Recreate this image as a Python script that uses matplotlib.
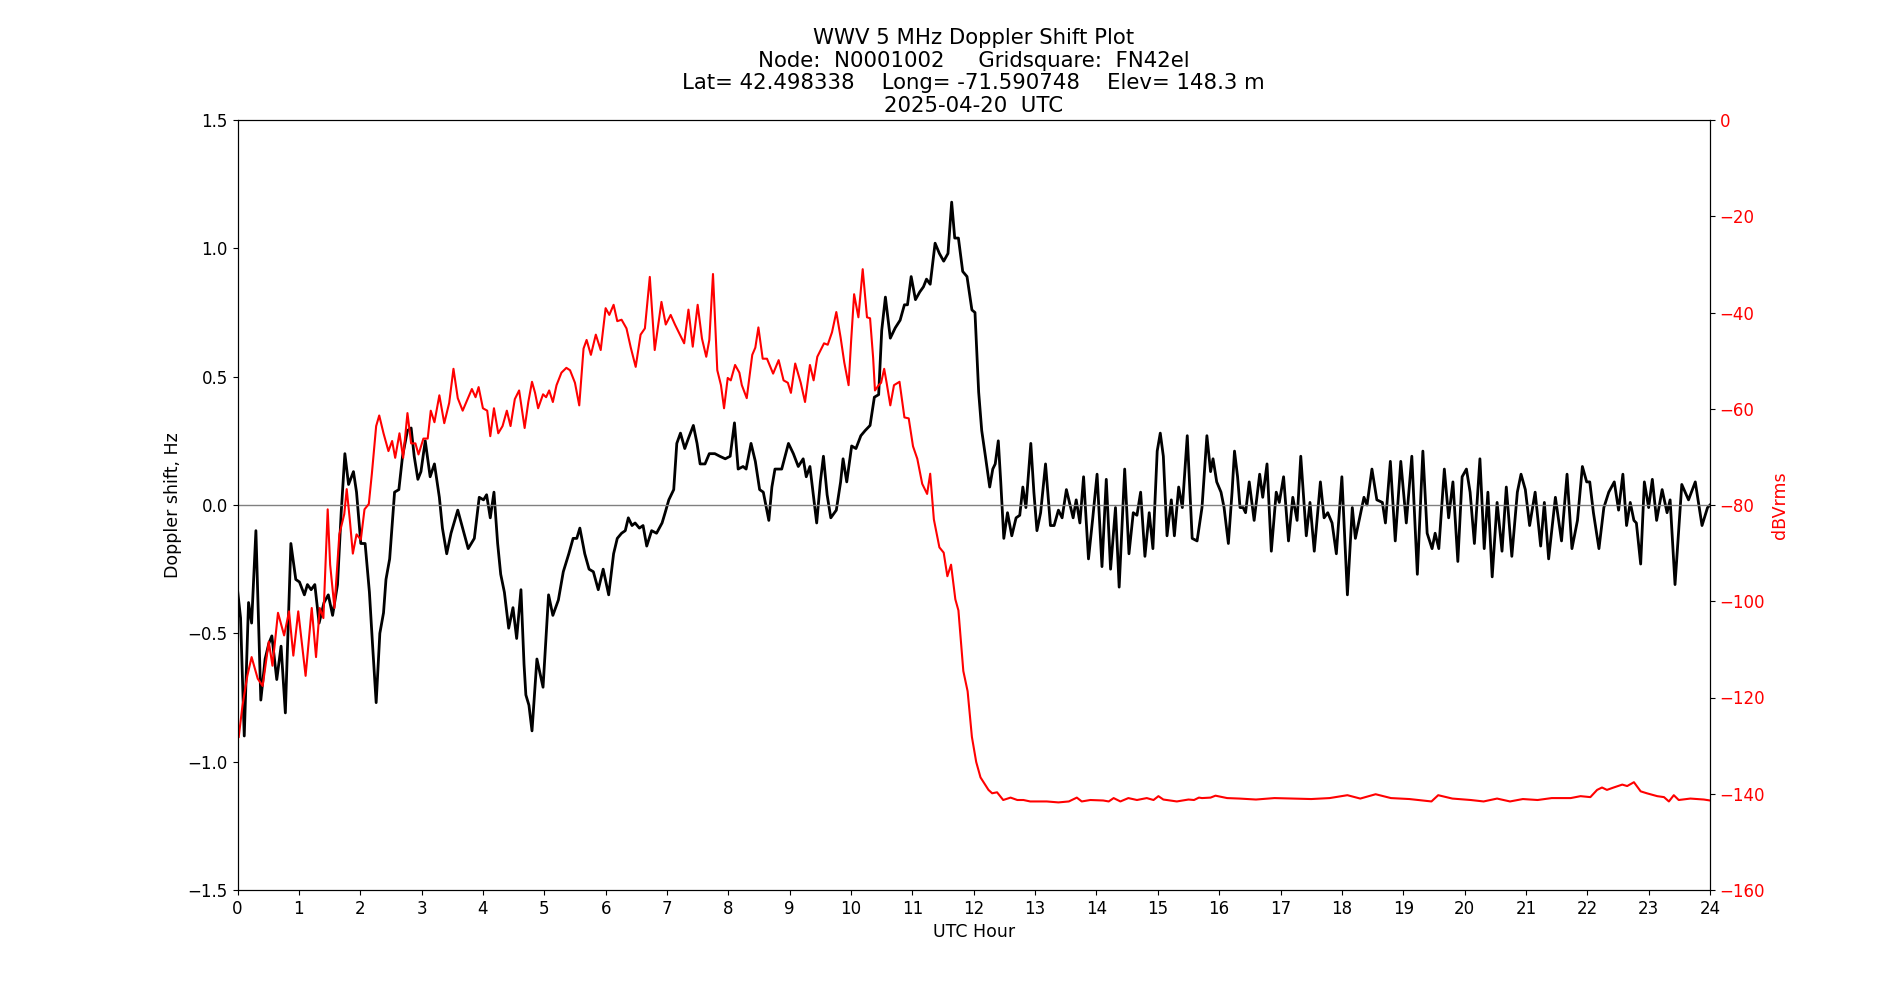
import matplotlib
matplotlib.use('Agg')
import matplotlib.pyplot as plt
import numpy as np

###########################################
# Data
###########################################

# Doppler shift (Hz) vs UTC hour
dop_hours = [
    0.00, 0.05, 0.11, 0.18, 0.23, 0.30, 0.38, 0.45, 0.51, 0.56, 0.64, 0.71, 0.78, 0.87, 0.95,
    1.01, 1.09, 1.14, 1.20, 1.26, 1.33, 1.41, 1.48, 1.55, 1.63, 1.69, 1.75, 1.81, 1.89, 1.94,
    2.01, 2.08, 2.15, 2.20, 2.26, 2.32, 2.38, 2.42, 2.48, 2.56, 2.63, 2.69, 2.77, 2.83, 2.88, 2.94, 2.99,
    3.06, 3.14, 3.21, 3.29, 3.34, 3.41, 3.48, 3.59, 3.67, 3.76, 3.86, 3.94,
    4.01, 4.06, 4.12, 4.18, 4.24, 4.29, 4.35, 4.42, 4.49, 4.55, 4.62, 4.67, 4.70, 4.75, 4.80, 4.88, 4.98,
    5.07, 5.14, 5.23, 5.31, 5.40, 5.47, 5.53, 5.58, 5.66, 5.73, 5.80, 5.88, 5.96,
    6.05, 6.13, 6.19, 6.26, 6.32, 6.37, 6.43, 6.48, 6.55, 6.61, 6.67, 6.75, 6.83, 6.92, 6.97,
    7.03, 7.11, 7.16, 7.22, 7.29, 7.35, 7.43, 7.49, 7.54, 7.62, 7.69, 7.78, 7.86, 7.95,
    8.03, 8.10, 8.16, 8.24, 8.29, 8.37, 8.44, 8.51, 8.57, 8.66, 8.71, 8.76, 8.87, 8.98,
    9.06, 9.14, 9.22, 9.27, 9.33, 9.39, 9.44, 9.50, 9.55, 9.61, 9.67, 9.76, 9.83, 9.87, 9.93,
    10.01, 10.08, 10.16, 10.23, 10.31, 10.38, 10.45, 10.50, 10.56, 10.64, 10.72, 10.80, 10.87, 10.92, 10.98,
    11.05, 11.12, 11.18, 11.23, 11.29, 11.37, 11.44, 11.51, 11.58, 11.64, 11.69, 11.75, 11.82, 11.89, 11.97,
    12.02, 12.08, 12.13, 12.19, 12.26, 12.31, 12.35, 12.40, 12.44, 12.49, 12.55, 12.62, 12.69, 12.75, 12.80,
    12.85, 12.93, 12.98, 13.03, 13.09, 13.17, 13.25, 13.31, 13.38, 13.44, 13.51, 13.56, 13.62, 13.67, 13.73,
    13.79, 13.87, 13.94, 14.01, 14.09, 14.16, 14.23, 14.31, 14.37, 14.46, 14.53, 14.60, 14.66, 14.72, 14.79,
    14.86, 14.92, 14.99, 15.04, 15.09, 15.15, 15.22, 15.27, 15.34, 15.40, 15.48, 15.56, 15.64, 15.72, 15.80,
    15.86, 15.90, 15.96, 16.03, 16.08, 16.15, 16.21, 16.25, 16.30, 16.34, 16.39, 16.43, 16.49, 16.57, 16.66,
    16.71, 16.78, 16.85, 16.93, 16.98, 17.05, 17.13, 17.20, 17.27, 17.33, 17.42, 17.48, 17.55, 17.65, 17.71,
    17.77, 17.84, 17.91, 18.00, 18.09, 18.17, 18.22, 18.29, 18.36, 18.41, 18.49, 18.57, 18.66, 18.71, 18.79,
    18.87, 18.96, 19.05, 19.14, 19.23, 19.32, 19.39, 19.47, 19.52, 19.58, 19.67, 19.74, 19.81, 19.89, 19.96,
    20.03, 20.09, 20.16, 20.25, 20.32, 20.38, 20.45, 20.53, 20.61, 20.68, 20.77, 20.86, 20.92, 20.99,
    21.06, 21.15, 21.24, 21.30, 21.37, 21.48, 21.58, 21.67, 21.75, 21.84, 21.92, 21.99,
    22.04, 22.10, 22.19, 22.27, 22.35, 22.44, 22.51, 22.58, 22.64, 22.70, 22.76, 22.80, 22.87, 22.93,
    23.00, 23.06, 23.13, 23.22, 23.30, 23.35, 23.43, 23.54, 23.65, 23.76, 23.87, 23.96, 24.00,
]
dop_shift = [
    -0.33, -0.44, -0.90, -0.38, -0.46, -0.10, -0.76, -0.60, -0.54, -0.51, -0.68, -0.55, -0.81, -0.15, -0.29,
    -0.30, -0.35, -0.31, -0.33, -0.31, -0.46, -0.38, -0.35, -0.43, -0.31, -0.03, 0.20, 0.08, 0.13, 0.05,
    -0.15, -0.15, -0.34, -0.54, -0.77, -0.50, -0.42, -0.29, -0.21, 0.05, 0.06, 0.19, 0.29, 0.30, 0.19, 0.10, 0.13,
    0.25, 0.11, 0.16, 0.03, -0.09, -0.19, -0.11, -0.02, -0.09, -0.17, -0.13, 0.03,
    0.02, 0.04, -0.05, 0.05, -0.15, -0.27, -0.34, -0.48, -0.40, -0.52, -0.33, -0.62, -0.74, -0.78, -0.88, -0.60, -0.71,
    -0.35, -0.43, -0.37, -0.26, -0.19, -0.13, -0.13, -0.09, -0.19, -0.25, -0.26, -0.33, -0.25,
    -0.35, -0.19, -0.13, -0.11, -0.10, -0.05, -0.08, -0.07, -0.09, -0.08, -0.16, -0.10, -0.11, -0.07, -0.03,
    0.02, 0.06, 0.24, 0.28, 0.22, 0.26, 0.31, 0.24, 0.16, 0.16, 0.20, 0.20, 0.19, 0.18,
    0.19, 0.32, 0.14, 0.15, 0.14, 0.24, 0.17, 0.06, 0.05, -0.06, 0.07, 0.14, 0.14, 0.24,
    0.20, 0.15, 0.18, 0.11, 0.15, 0.03, -0.07, 0.09, 0.19, 0.04, -0.05, -0.02, 0.09, 0.18, 0.09,
    0.23, 0.22, 0.27, 0.29, 0.31, 0.42, 0.43, 0.68, 0.81, 0.65, 0.69, 0.72, 0.78, 0.78, 0.89,
    0.80, 0.83, 0.85, 0.88, 0.86, 1.02, 0.98, 0.95, 0.98, 1.18, 1.04, 1.04, 0.91, 0.89, 0.76,
    0.75, 0.44, 0.29, 0.19, 0.07, 0.14, 0.16, 0.25, 0.09, -0.13, -0.03, -0.12, -0.05, -0.04, 0.07,
    -0.01, 0.24, 0.05, -0.10, -0.03, 0.16, -0.08, -0.08, -0.02, -0.05, 0.06, 0.01, -0.05, 0.02, -0.07,
    0.11, -0.21, -0.05, 0.12, -0.24, 0.10, -0.25, -0.01, -0.32, 0.14, -0.19, -0.03, -0.04, 0.05, -0.20,
    -0.03, -0.17, 0.21, 0.28, 0.19, -0.12, 0.02, -0.12, 0.07, -0.01, 0.27, -0.13, -0.14, -0.01, 0.27,
    0.13, 0.18, 0.09, 0.05, -0.01, -0.15, 0.05, 0.21, 0.11, -0.01, -0.01, -0.03, 0.09, -0.06, 0.12,
    0.03, 0.16, -0.18, 0.05, 0.01, 0.11, -0.14, 0.03, -0.06, 0.19, -0.12, 0.01, -0.18, 0.09, -0.05,
    -0.03, -0.07, -0.19, 0.11, -0.35, -0.01, -0.13, -0.05, 0.03, 0.00, 0.14, 0.02, 0.01, -0.07, 0.17,
    -0.14, 0.17, -0.07, 0.19, -0.27, 0.21, -0.11, -0.17, -0.11, -0.17, 0.14, -0.05, 0.09, -0.22, 0.11,
    0.14, 0.05, -0.15, 0.18, -0.17, 0.05, -0.28, 0.01, -0.18, 0.07, -0.20, 0.05, 0.12, 0.06,
    -0.08, 0.05, -0.16, 0.01, -0.21, 0.03, -0.14, 0.12, -0.17, -0.06, 0.15, 0.09,
    0.09, -0.03, -0.17, -0.01, 0.05, 0.09, -0.02, 0.12, -0.08, 0.01, -0.06, -0.07, -0.23, 0.09,
    -0.01, 0.10, -0.06, 0.06, -0.03, 0.02, -0.31, 0.08, 0.02, 0.09, -0.08, -0.01, 0.00,
]

# Signal level (dBVrms) vs UTC hour
pwr_hours = [
    0.02, 0.08, 0.16, 0.23, 0.33, 0.41, 0.51, 0.57, 0.66, 0.76, 0.84, 0.91, 0.99,
    1.11, 1.21, 1.28, 1.34, 1.40, 1.47, 1.51, 1.58, 1.66, 1.74, 1.78, 1.83, 1.88, 1.94,
    2.01, 2.07, 2.14, 2.19, 2.26, 2.31, 2.38, 2.46, 2.52, 2.57, 2.64, 2.70, 2.77, 2.83, 2.90, 2.95,
    3.03, 3.10, 3.15, 3.21, 3.29, 3.37, 3.45, 3.52, 3.59, 3.67, 3.75, 3.82, 3.88, 3.93,
    4.00, 4.07, 4.12, 4.18, 4.25, 4.32, 4.39, 4.45, 4.52, 4.59, 4.68, 4.74, 4.80, 4.85, 4.90, 4.98,
    5.03, 5.08, 5.14, 5.20, 5.28, 5.36, 5.42, 5.50, 5.57, 5.64, 5.69, 5.76, 5.84, 5.92,
    6.00, 6.06, 6.13, 6.19, 6.26, 6.34, 6.41, 6.49, 6.57, 6.64, 6.72, 6.80, 6.91, 6.98,
    7.06, 7.13, 7.21, 7.28, 7.35, 7.42, 7.50, 7.57, 7.64, 7.69, 7.75, 7.82, 7.88, 7.93, 7.99,
    8.04, 8.11, 8.18, 8.22, 8.30, 8.39, 8.44, 8.49, 8.56, 8.63, 8.73, 8.82, 8.90, 8.97,
    9.02, 9.09, 9.18, 9.25, 9.33, 9.39, 9.45, 9.56, 9.62, 9.69, 9.76, 9.83, 9.89, 9.96,
    10.00, 10.05, 10.12, 10.19, 10.26, 10.31, 10.36, 10.39, 10.45, 10.49, 10.54, 10.58, 10.64, 10.70, 10.79,
    10.87, 10.94, 11.01, 11.08, 11.16, 11.24, 11.29, 11.35, 11.44, 11.51, 11.57, 11.63, 11.70, 11.75,
    11.83, 11.90, 11.97, 12.04, 12.11, 12.16, 12.24, 12.30, 12.38, 12.48, 12.60, 12.71, 12.81, 12.92,
    13.19, 13.38, 13.55, 13.68, 13.76, 13.90, 14.11, 14.20, 14.28, 14.39, 14.52, 14.66, 14.82, 14.93,
    15.01, 15.09, 15.31, 15.50, 15.59, 15.67, 15.72, 15.86, 15.94, 16.13, 16.33, 16.60, 16.90,
    17.20, 17.50, 17.80, 18.09, 18.30, 18.55, 18.80, 19.10, 19.46, 19.57, 19.80, 20.10, 20.31,
    20.53, 20.74, 20.95, 21.19, 21.42, 21.73, 21.89, 22.05, 22.16, 22.24, 22.32, 22.43, 22.57, 22.65,
    22.76, 22.87, 22.97, 23.14, 23.25, 23.33, 23.41, 23.49, 23.68, 23.90, 24.00,
]
pwr_dbv = [
    -128.2, -121.8, -115.5, -111.6, -116.1, -117.6, -108.4, -113.4, -102.4, -107.1, -102.1, -111.3, -102.1,
    -115.5, -101.4, -111.6, -101.4, -103.5, -80.9, -92.4, -101.4, -86.1, -81.9, -76.7, -83.0, -90.1, -86.1,
    -87.2, -80.9, -79.8, -73.5, -63.6, -61.4, -65.1, -68.8, -66.7, -70.2, -65.1, -70.2, -60.9, -67.2, -67.2, -69.5,
    -66.2, -66.2, -60.4, -62.8, -57.2, -63.0, -58.8, -51.7, -57.8, -60.4, -58.0, -55.9, -57.6, -55.5,
    -59.9, -60.4, -65.7, -59.9, -65.1, -63.6, -60.4, -63.6, -58.0, -56.2, -64.0, -58.6, -54.4, -56.7, -59.9, -57.0,
    -57.6, -56.2, -58.6, -55.1, -52.5, -51.5, -52.0, -54.6, -59.3, -47.5, -45.7, -48.8, -44.6, -47.8,
    -39.1, -40.5, -38.4, -41.8, -41.5, -43.3, -47.3, -51.3, -44.6, -43.3, -32.6, -47.8, -37.8, -42.5,
    -40.5, -42.5, -44.6, -46.4, -39.4, -47.1, -38.4, -45.4, -49.2, -45.7, -32.0, -52.0, -55.1, -59.9, -53.6,
    -54.1, -50.9, -52.5, -55.1, -57.8, -48.8, -47.3, -43.1, -49.6, -49.6, -52.7, -49.9, -54.1, -54.6,
    -56.7, -50.6, -54.6, -58.6, -50.9, -54.1, -49.2, -46.4, -46.7, -44.1, -39.9, -45.2, -50.4, -55.1,
    -46.2, -36.2, -41.0, -31.0, -41.0, -41.2, -49.4, -56.2, -55.1, -54.6, -51.7, -54.6, -59.3, -55.1, -54.4,
    -61.8, -62.0, -67.8, -70.4, -75.6, -77.7, -73.5, -83.0, -88.8, -89.9, -94.8, -92.4, -99.6, -101.9,
    -114.5, -118.7, -128.2, -133.4, -136.6, -137.6, -139.2, -139.9, -139.7, -141.3, -140.8, -141.3, -141.3, -141.6,
    -141.6, -141.8, -141.6, -140.8, -141.6, -141.3, -141.4, -141.6, -140.9, -141.6, -140.9, -141.3, -140.9, -141.3,
    -140.5, -141.2, -141.6, -141.2, -141.3, -140.8, -140.9, -140.8, -140.4, -140.9, -141.0, -141.2, -140.9,
    -141.0, -141.1, -140.9, -140.3, -141.0, -140.1, -140.9, -141.1, -141.6, -140.3, -141.0, -141.3, -141.6,
    -141.0, -141.6, -141.1, -141.3, -140.9, -140.9, -140.5, -140.7, -139.2, -138.7, -139.2, -138.7, -138.1, -138.4,
    -137.6, -139.5, -139.9, -140.5, -140.7, -141.6, -140.3, -141.3, -141.0, -141.2, -141.4,
]

hour_ticks = list(range(0, 25))

###########################################
# Plot
###########################################

fig, ax = plt.subplots(figsize=(19, 10), dpi=100)

ax.plot(dop_hours, dop_shift, color='black', linewidth=2)
ax.axhline(y=0, color='gray', linewidth=1)
ax.set_xlim(0, 24)
ax.set_ylim(-1.5, 1.5)
ax.set_xticks(hour_ticks)
ax.set_xlabel('UTC Hour', fontsize=12.5)
ax.set_ylabel('Doppler shift, Hz', fontsize=12.5)
ax.tick_params(labelsize=12)

ax2 = ax.twinx()
ax2.plot(pwr_hours, pwr_dbv, color='red', linewidth=1.5)
ax2.set_ylim(-160, 0)
ax2.set_ylabel('dBVrms', color='red', fontsize=12.5)
ax2.tick_params(axis='y', labelcolor='red', labelsize=12)

ax.set_title('WWV 5 MHz Doppler Shift Plot\n'
             'Node:  N0001002     Gridsquare:  FN42el\n'
             'Lat= 42.498338    Long= -71.590748    Elev= 148.3 m\n'
             '2025-04-20  UTC', fontsize=15.3, linespacing=1.15)

plt.savefig('out.png', dpi=100, facecolor='white')
plt.close()
